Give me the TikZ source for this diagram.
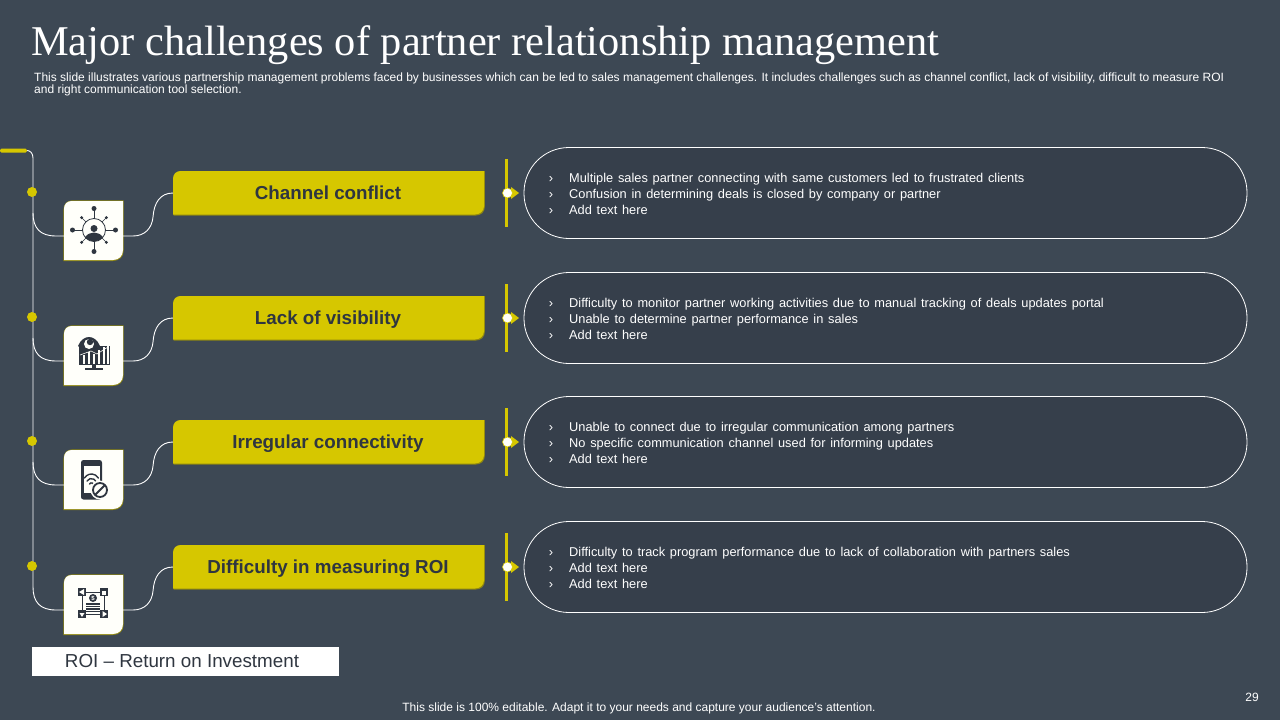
\documentclass[tikz,border=0pt]{standalone}
\usepackage{fontspec}
\setmainfont{Liberation Sans}
\newfontfamily\titlefont{Liberation Serif}
\definecolor{bgc}{HTML}{3D4854}
\definecolor{pillc}{HTML}{363F4B}
\definecolor{yel}{HTML}{D6C700}
\definecolor{yeld}{HTML}{8F8710}
\definecolor{icn}{HTML}{2F3640}
\definecolor{boxw}{HTML}{FFFFFA}
\newcommand{\widesp}{\spaceskip 4.75pt\relax}
\tikzset{
  x=1pt,y=-1pt,
  barbox/.style={anchor=base,inner sep=0pt,font=\fontsize{18.8}{22}\selectfont\bfseries,text=icn},
  iconbox/.style={minimum width=59pt,minimum height=59pt,inner sep=0pt},
  pillbox/.style={minimum width=723pt,minimum height=91pt,inner sep=0pt,rounded corners=45pt,draw=white,line width=0.8pt,fill=pillc},
  linetext/.style={anchor=base west,inner sep=0pt,text=white,font=\fontsize{12.8}{14}\selectfont},
  chev/.style={anchor=base,inner sep=0pt,text=white,font=\fontsize{13}{14}\selectfont},
  wire/.style={draw=white,line width=0.9pt},
  dotc/.style={circle,fill=yel,minimum size=10pt,inner sep=0pt},
  vbar/.style={fill=yel,minimum width=3pt,minimum height=68pt,inner sep=0pt},
  tipn/.style={circle,fill=boxw,draw=yel,line width=0.6pt,minimum size=10pt,inner sep=0pt},
}
\newcommand{\rowblock}[6]{%
  \node[pillbox] (p#1) at (885.5,#2) {};
  \fill[yeld] (173.5,{#2-13}) .. controls (173.5,{#2-18}) and (177,{#2-22}) .. (182,{#2-22}) -- (484.8,{#2-22}) -- (484.8,{#2+14}) .. controls (484.8,{#2+19}) and (481,{#2+22.5}) .. (476,{#2+22.5}) -- (173.5,{#2+22.5}) -- cycle;
  \fill[yel] (173,{#2-14}) .. controls (173,{#2-19}) and (176,{#2-22}) .. (181,{#2-22}) -- (484,{#2-22}) -- (484,{#2+13}) .. controls (484,{#2+18}) and (480,{#2+21.5}) .. (475,{#2+21.5}) -- (173,{#2+21.5}) -- cycle;
  \node[barbox] (b#1) at (328,{#2+6}) {#3};
  \coordinate (bl#1) at (173,#2);
  \node[vbar] (v#1) at (506.5,#2) {};
  \fill[yel] (511,{#2-6}) -- (519,#2) -- (511,{#2+6}) -- cycle;
  \node[tipn] (t#1) at (507.5,#2) {};
  \node[dotc] (d#1) at (32,{#2-1}) {};
  \node[iconbox] (i#1) at (93.5,{#2+37.5}) {};
  \fill[yeld] (63.4,{#2+17}) .. controls (63.4,{#2+11}) and (67,{#2+7.4}) .. (72,{#2+7.4}) -- (123.6,{#2+7.4}) -- (123.6,{#2+58}) .. controls (123.6,{#2+64}) and (119,{#2+68}) .. (113,{#2+68}) -- (63.4,{#2+68}) -- cycle;
  \fill[boxw] (64,{#2+16}) .. controls (64,{#2+11}) and (67,{#2+8}) .. (72,{#2+8}) -- (123,{#2+8}) -- (123,{#2+57}) .. controls (123,{#2+63}) and (119,{#2+67}) .. (113,{#2+67}) -- (64,{#2+67}) -- cycle;
  \coordinate (s#1) at (33,{#2+20});
  \coordinate (e#1) at (56,{#2+43});
  \coordinate (f#1) at (133,{#2+43});
  \coordinate (m#1) at (153,{#2+24});
  \draw[wire] (s#1) .. controls (33,{#2+35}) and (40,{#2+43}) .. (e#1) -- (e#1 -| i#1.west);
  \draw[wire] (f#1 -| i#1.east) -- (f#1) .. controls (145,{#2+43}) and (152,{#2+35}) .. (m#1) .. controls (154,{#2+10}) and (160,#2) .. (bl#1);
  \node[chev] (ca#1) at (551,{#2-10.7}) {›};
  \node[chev] (cb#1) at (551,{#2+5.3}) {›};
  \node[chev] (cc#1) at (551,{#2+21.3}) {›};
  \node[linetext] (la#1) at (569,{#2-10.7}) {\widesp #4};
  \node[linetext] (lb#1) at (569,{#2+5.3}) {\widesp #5};
  \node[linetext] (lc#1) at (569,{#2+21.3}) {\widesp #6};
}
\begin{document}
\begin{tikzpicture}
\path[use as bounding box,fill=bgc] (0,0) rectangle (1280,720);
% header
\node[anchor=west,inner sep=0pt,text=white,font=\titlefont\fontsize{42.4}{46}\selectfont] (title) at (31,45) {Major challenges of partner relationship management};
\node[anchor=north west,inner sep=0pt,text=white,align=left,font=\fontsize{12}{12.6}\selectfont] (sub) at (34,72.5) {This slide illustrates various partnership management problems faced by businesses which can be led to sales management challenges. It includes challenges such as channel conflict, lack of visibility, difficult to measure ROI\\and right communication tool selection.};
% spine
\node[fill=yel,rounded corners=1.5pt,minimum width=27pt,minimum height=4pt,inner sep=0pt] (cap) at (13.5,150.5) {};
\coordinate (low) at (33,587);
\draw[wire] (cap.east) .. controls (30,150.5) and (33,153) .. (33,158) -- (low);
% rows
\rowblock{1}{193}{Channel conflict}{Multiple sales partner connecting with same customers led to frustrated clients}{Confusion in determining deals is closed by company or partner}{Add text here}
\rowblock{2}{318}{Lack of visibility}{Difficulty to monitor partner working activities due to manual tracking of deals updates portal}{Unable to determine partner performance in sales}{Add text here}
\rowblock{3}{442}{Irregular connectivity}{Unable to connect due to irregular communication among partners}{No specific communication channel used for informing updates}{Add text here}
\rowblock{4}{567}{Difficulty in measuring ROI}{Difficulty to track program performance due to lack of collaboration with partners sales}{Add text here}{Add text here}
% icon 1
\begin{scope}[shift={(94,230)}]
 \foreach \a in {0,90,180,270}{\draw[icn,line width=0.9pt] (\a:11) -- (\a:21.5); \fill[icn] (\a:21.5) circle (2.5);}
 \foreach \a in {45,135,225,315}{\draw[icn,line width=0.7pt] (\a:11) -- (\a:17.5); \fill[icn] (\a:17.5) circle (1.7);}
 \draw[icn,line width=0.8pt] (0,0) circle (11.5);
 \fill[icn] (0,-1.5) circle (3.5);
 \fill[icn] (-9,7) .. controls (-4,1) and (4,1) .. (9,7) .. controls (4,13) and (-4,13) .. (-9,7) -- cycle;
\end{scope}
% icon 2
\begin{scope}[shift={(94,355)}]
 \fill[icn] (-15,-9) rectangle (16,10);
 \foreach \x/\t in {-11/0,-6/-3,-1/-1,4/-5,9/-8,13/-10}{\fill[boxw] (\x,\t) rectangle (\x+2.2,9);}
 \draw[boxw,line width=0.6pt] (-14,0) -- (-3,-4) -- (3,-1) -- (14,-8);
 \fill[icn] (-16,-9) .. controls (-11,-21) and (1,-21) .. (6,-9) .. controls (1,-4) and (-11,-4) .. (-16,-9) -- cycle;
 \fill[boxw] (-5,-11) circle (5);
 \fill[icn] (-4,-13) circle (3.2);
 \fill[icn] (-2,10) rectangle (2,13);
 \fill[icn] (-9,13) rectangle (9,14.5);
\end{scope}
% icon 3
\begin{scope}[shift={(91.5,480)}]
 \fill[icn,rounded corners=2.5pt] (-10.5,-20) rectangle (10.5,19.5);
 \fill[boxw] (-8,-14.5) rectangle (8,13);
 \draw[icn,line width=1.4pt,line cap=round] (-7,-2) arc[start angle=-150,end angle=-30,radius=8];
 \draw[icn,line width=1.4pt,line cap=round] (-4.5,1) arc[start angle=-150,end angle=-30,radius=5];
 \draw[icn,line width=1.4pt,line cap=round] (-2,4) arc[start angle=-150,end angle=-30,radius=2.3];
 \fill[boxw] (8.5,10) circle (9.5);
 \draw[icn,line width=1.8pt] (8.5,10) circle (7);
 \draw[icn,line width=1.8pt] (3.5,15) -- (13.5,5);
\end{scope}
% icon 4
\begin{scope}[shift={(93,603)}]
 \draw[icn,line width=0.9pt] (-11,-11) rectangle (11,11);
 \foreach \x/\y in {-11/-11,11/-11,-11/11,11/11}{\fill[icn] (\x-4,\y-4) rectangle (\x+4,\y+4);}
 \fill[boxw] (-14,-11) -- (-9,-14) -- (-9,-8) -- cycle;
 \fill[boxw] (9,-8.5) rectangle (13,-12);
 \fill[boxw] (-11,14) -- (-13.5,10) -- (-8.5,10) -- cycle;
 \fill[boxw] (9.5,8) -- (14,11) -- (9.5,14) -- cycle;
 \fill[icn] (0,-5) circle (4);
 \node[inner sep=0pt,text=boxw,font=\fontsize{6}{6}\selectfont\bfseries] (dollar) at (0,-5) {\$};
 \foreach \y in {0,2.5,5,7.5}{\fill[icn] (-7,\y) rectangle (7,\y+1.5);}
\end{scope}
% legend and footer
\node[fill=white,minimum width=307pt,minimum height=29pt,inner sep=0pt,text=icn,font=\fontsize{18.8}{20}\selectfont] (roi) at (185.5,661.5) {\hspace*{-7pt}ROI – Return on Investment};
\node[inner sep=0pt,text=white,font=\fontsize{12}{14}\selectfont] (foot) at (639,708) {This slide is 100\% editable. Adapt it to your needs and capture your audience's attention.};
\node[inner sep=0pt,text=white,font=\fontsize{12}{14}\selectfont] (pg) at (1252,697.5) {29};
\end{tikzpicture}
\end{document}
